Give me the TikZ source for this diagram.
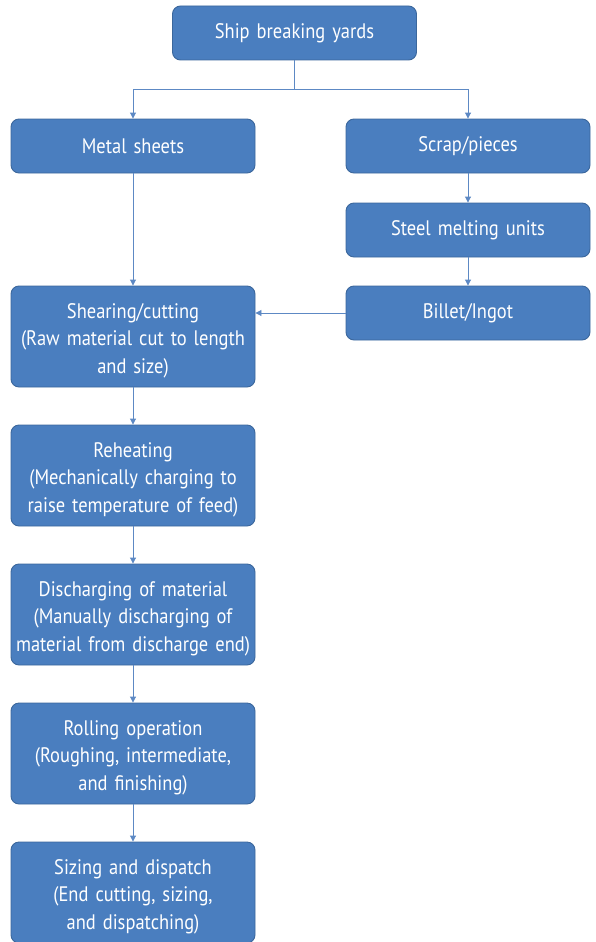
\documentclass[tikz,border=0pt]{standalone}
\usepackage{fontspec}
\setmainfont{PT Sans}[FakeStretch=0.88]
\usetikzlibrary{arrows.meta}
\definecolor{boxfill}{HTML}{4A7EBF}
\definecolor{boxedge}{HTML}{3B679C}
\definecolor{linecol}{HTML}{5D89C4}
\newcommand{\fstrut}{\rule{0pt}{23pt}}
\tikzset{
  box/.style={draw=boxedge, line width=0.9pt, fill=boxfill, rounded corners=8pt,
    text=white, align=center, inner sep=2pt, font=\fontsize{21}{27.5}\selectfont,
    minimum width=244pt, text width=238pt},
  small/.style={box, minimum height=54pt},
  tall/.style={box, minimum height=101pt},
  conn/.style={draw=linecol, line width=0.9pt},
  arr/.style={conn, -{Triangle[width=6pt,length=6pt]}}
}
\begin{document}
\begin{tikzpicture}[x=1pt,y=-1pt]
\useasboundingbox (0,0) rectangle (596,942);
\node[small] (ship) at (294.5,33) {Ship breaking yards};
\node[small] (metal) at (133,146) {Metal sheets};
\node[small] (scrap) at (468,146) {Scrap/pieces};
\node[small] (melt) at (468,230) {Steel melting units};
\node[small] (billet) at (468,313) {Billet/Ingot};
\node[tall] (shear) at (133,336.5) {\fstrut Shearing/cutting\\(Raw material cut to length\\and size)};
\node[tall] (reheat) at (133,475.5) {\fstrut Reheating\\(Mechanically charging to\\raise temperature of feed)};
\node[tall] (disch) at (133,614.5) {\fstrut Discharging of material\\(Manually discharging of\\material from discharge end)};
\node[tall] (roll) at (133,753.5) {\fstrut Rolling operation\\(Roughing, intermediate,\\and finishing)};
\node[tall] (size) at (133,892.5) {\fstrut Sizing and dispatch\\(End cutting, sizing,\\and dispatching)};
\coordinate (split) at (294.5,89);
\draw[conn] (ship.south) -- (split);
\draw[arr] (split) -| (metal.north);
\draw[arr] (split) -| (scrap.north);
\draw[arr] (metal) -- (shear);
\draw[arr] (scrap) -- (melt);
\draw[arr] (melt) -- (billet);
\draw[arr] (billet.west) -- (billet.west -| shear.east);
\draw[arr] (shear) -- (reheat);
\draw[arr] (reheat) -- (disch);
\draw[arr] (disch) -- (roll);
\draw[arr] (roll) -- (size);
\end{tikzpicture}
\end{document}
